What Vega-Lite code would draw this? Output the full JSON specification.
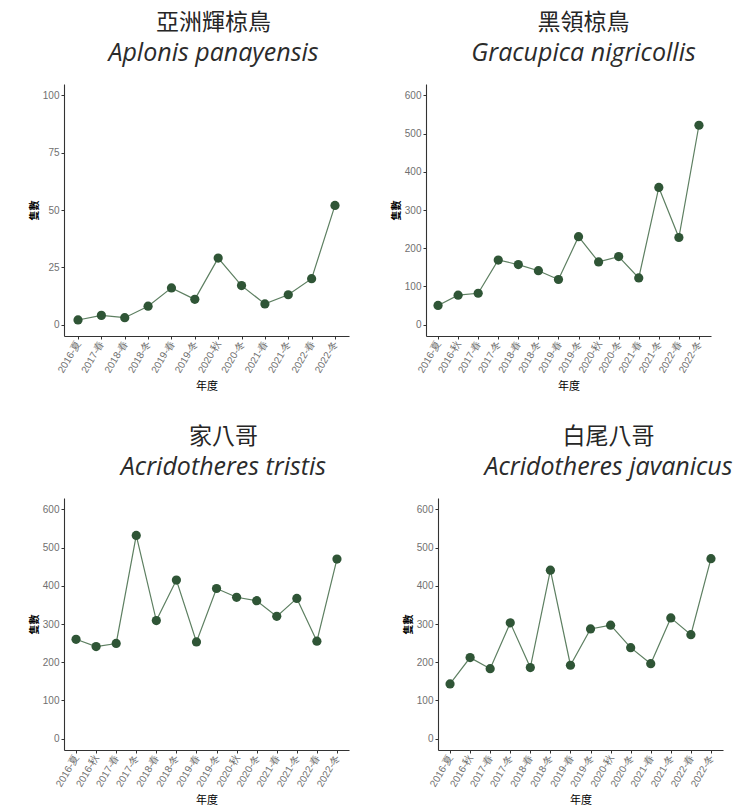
{
  "$schema": "https://vega.github.io/schema/vega-lite/v6.json",
  "padding": {"left": 29, "top": 12, "right": 0, "bottom": 0},
  "background": "white",
  "datasets": {
    "aplonis": [
      {"period": "2016-夏", "count": 2},
      {"period": "2017-春", "count": 4},
      {"period": "2018-春", "count": 3},
      {"period": "2018-冬", "count": 8},
      {"period": "2019-春", "count": 16},
      {"period": "2019-冬", "count": 11},
      {"period": "2020-秋", "count": 29},
      {"period": "2020-冬", "count": 17},
      {"period": "2021-春", "count": 9},
      {"period": "2021-冬", "count": 13},
      {"period": "2022-春", "count": 20},
      {"period": "2022-冬", "count": 52}
    ],
    "gracupica": [
      {"period": "2016-夏", "count": 50},
      {"period": "2016-秋", "count": 77},
      {"period": "2017-春", "count": 82},
      {"period": "2017-冬", "count": 169},
      {"period": "2018-春", "count": 157},
      {"period": "2018-冬", "count": 141},
      {"period": "2019-春", "count": 118},
      {"period": "2019-冬", "count": 230},
      {"period": "2020-秋", "count": 164},
      {"period": "2020-冬", "count": 178},
      {"period": "2021-春", "count": 122},
      {"period": "2021-冬", "count": 359},
      {"period": "2022-春", "count": 228},
      {"period": "2022-冬", "count": 522}
    ],
    "tristis": [
      {"period": "2016-夏", "count": 260},
      {"period": "2016-秋", "count": 241},
      {"period": "2017-春", "count": 249},
      {"period": "2017-冬", "count": 532},
      {"period": "2018-春", "count": 309},
      {"period": "2018-冬", "count": 415},
      {"period": "2019-春", "count": 253},
      {"period": "2019-冬", "count": 393},
      {"period": "2020-秋", "count": 370},
      {"period": "2020-冬", "count": 361},
      {"period": "2021-春", "count": 320},
      {"period": "2021-冬", "count": 367},
      {"period": "2022-春", "count": 255},
      {"period": "2022-冬", "count": 470}
    ],
    "javanicus": [
      {"period": "2016-夏", "count": 143},
      {"period": "2016-秋", "count": 212},
      {"period": "2017-春", "count": 183},
      {"period": "2017-冬", "count": 303},
      {"period": "2018-春", "count": 186},
      {"period": "2018-冬", "count": 441},
      {"period": "2019-春", "count": 192},
      {"period": "2019-冬", "count": 287},
      {"period": "2020-秋", "count": 297},
      {"period": "2020-冬", "count": 238},
      {"period": "2021-春", "count": 196},
      {"period": "2021-冬", "count": 316},
      {"period": "2022-春", "count": 272},
      {"period": "2022-冬", "count": 471}
    ]
  },
  "config": {
    "view": {"stroke": null},
    "font": "Noto Sans CJK TC",
    "axis": {
      "grid": false,
      "domainColor": "#333333",
      "domainWidth": 1.1,
      "tickColor": "#333333",
      "tickSize": 3,
      "labelColor": "#707070",
      "labelFont": "Liberation Sans",
      "labelFontSize": 10,
      "labelPadding": 2,
      "labelOverlap": false,
      "titleColor": "#000000",
      "titleFont": "Noto Sans CJK TC",
      "titleFontSize": 11
    },
    "axisX": {"labelAngle": -60, "titleFontSize": 11, "titleFontWeight": "normal", "titlePadding": 6},
    "axisY": {"titleFontSize": 10, "titleFontWeight": "bold", "titlePadding": 3},
    "title": {
      "anchor": "middle",
      "frame": "group",
      "font": "Noto Sans CJK TC",
      "fontSize": 23,
      "fontWeight": "normal",
      "color": "#262626",
      "subtitleFont": "Open Sans",
      "subtitleFontStyle": "italic",
      "subtitleFontSize": 25,
      "subtitleColor": "#2b2b2b",
      "subtitlePadding": 6,
      "offset": 18
    }
  },
  "vconcat": [
    {
      "spacing": 42,
      "hconcat": [
        {
          "width": 285,
          "height": 252,
          "title": {"text": "亞洲輝椋鳥", "subtitle": "Aplonis panayensis", "dx": 7},
          "data": {"name": "aplonis"},
          "encoding": {
            "x": {"field": "period", "type": "ordinal", "sort": null, "scale": {"type": "point", "padding": 0.6}, "axis": {"title": "年度"}},
            "y": {"field": "count", "type": "quantitative", "scale": {"domain": [-5, 105], "nice": false, "zero": false}, "axis": {"values": [0, 25, 50, 75, 100], "title": "隻數"}}
          },
          "layer": [
            {"mark": {"type": "line", "color": "#5d7f61", "strokeWidth": 1.2}, "encoding": {}},
            {"mark": {"type": "point", "filled": true, "size": 85, "color": "#2f5536", "opacity": 1}, "encoding": {}}
          ]
        },
        {
          "width": 285,
          "height": 252,
          "title": {"text": "黑領椋鳥", "subtitle": "Gracupica nigricollis", "dx": 15},
          "data": {"name": "gracupica"},
          "encoding": {
            "x": {"field": "period", "type": "ordinal", "sort": null, "scale": {"type": "point", "padding": 0.6}, "axis": {"title": "年度"}},
            "y": {"field": "count", "type": "quantitative", "scale": {"domain": [-30, 630], "nice": false, "zero": false}, "axis": {"values": [0, 100, 200, 300, 400, 500, 600], "title": "隻數"}}
          },
          "layer": [
            {"mark": {"type": "line", "color": "#5d7f61", "strokeWidth": 1.2}, "encoding": {}},
            {"mark": {"type": "point", "filled": true, "size": 85, "color": "#2f5536", "opacity": 1}, "encoding": {}}
          ]
        }
      ]
    },
    {
      "spacing": 54,
      "hconcat": [
        {
          "width": 285,
          "height": 252,
          "title": {"text": "家八哥", "subtitle": "Acridotheres tristis", "dx": 17},
          "data": {"name": "tristis"},
          "encoding": {
            "x": {"field": "period", "type": "ordinal", "sort": null, "scale": {"type": "point", "padding": 0.6}, "axis": {"title": "年度"}},
            "y": {"field": "count", "type": "quantitative", "scale": {"domain": [-30, 630], "nice": false, "zero": false}, "axis": {"values": [0, 100, 200, 300, 400, 500, 600], "title": "隻數"}}
          },
          "layer": [
            {"mark": {"type": "line", "color": "#5d7f61", "strokeWidth": 1.2}, "encoding": {}},
            {"mark": {"type": "point", "filled": true, "size": 85, "color": "#2f5536", "opacity": 1}, "encoding": {}}
          ]
        },
        {
          "width": 285,
          "height": 252,
          "title": {"text": "白尾八哥", "subtitle": "Acridotheres javanicus", "dx": 28},
          "data": {"name": "javanicus"},
          "encoding": {
            "x": {"field": "period", "type": "ordinal", "sort": null, "scale": {"type": "point", "padding": 0.6}, "axis": {"title": "年度"}},
            "y": {"field": "count", "type": "quantitative", "scale": {"domain": [-30, 630], "nice": false, "zero": false}, "axis": {"values": [0, 100, 200, 300, 400, 500, 600], "title": "隻數"}}
          },
          "layer": [
            {"mark": {"type": "line", "color": "#5d7f61", "strokeWidth": 1.2}, "encoding": {}},
            {"mark": {"type": "point", "filled": true, "size": 85, "color": "#2f5536", "opacity": 1}, "encoding": {}}
          ]
        }
      ]
    }
  ],
  "spacing": 34
}
